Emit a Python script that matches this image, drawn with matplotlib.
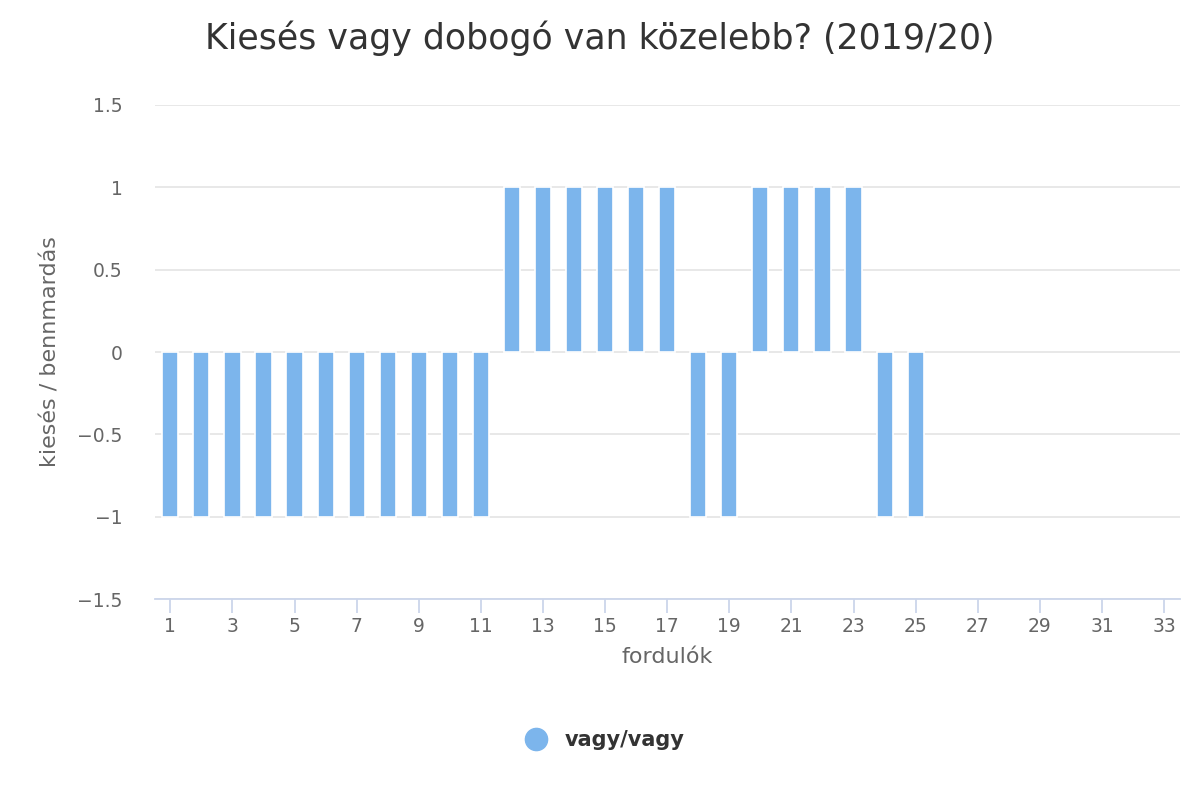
import matplotlib.pyplot as plt
import numpy as np
from matplotlib.lines import Line2D

plt.rcParams['font.family'] = ['DejaVu Sans']

# adatok
rounds = list(range(1, 34))
values = [-1] * 11 + [1] * 6 + [-1] * 2 + [1] * 4 + [-1] * 2 + [np.nan] * 8
y_ticks = [-1.5, -1, -0.5, 0, 0.5, 1, 1.5]
y_labels = ['−1.5', '−1', '−0.5', '0', '0.5', '1', '1.5']
x_ticks = list(range(1, 34, 2))

fig = plt.figure(figsize=(12, 8), dpi=100)
ax = fig.add_axes([0.129, 0.251, 0.854, 0.618])

ax.bar(rounds, values, width=0.52, color='#7cb5ec', edgecolor='white',
       linewidth=1.2, zorder=3)

ax.set_xlim(0.5, 33.5)
ax.set_ylim(-1.5, 1.5)
ax.set_yticks(y_ticks)
ax.set_yticklabels(y_labels)
ax.set_xticks(x_ticks)

ax.grid(axis='y', color='#e6e6e6', linewidth=1.3, zorder=0)
for s in ['top', 'right', 'left']:
    ax.spines[s].set_visible(False)
ax.spines['bottom'].set_color('#ccd6eb')
ax.spines['bottom'].set_linewidth(1.3)
ax.spines['bottom'].set_zorder(4)

ax.tick_params(axis='y', length=0, pad=23, labelsize=13.5, labelcolor='#666666')
ax.tick_params(axis='x', length=10, width=1.3, color='#ccd6eb', pad=3,
               labelsize=13.5, labelcolor='#666666')

ax.set_xlabel('fordulók', fontsize=16, color='#666666', labelpad=8)
ax.set_ylabel('kiesés / bennmardás', fontsize=16, color='#666666', labelpad=12)

fig.text(0.5, 0.952, 'Kiesés vagy dobogó van közelebb? (2019/20)',
         ha='center', va='center', fontsize=25, color='#333333')

handle = Line2D([], [], marker='o', linestyle='none', markersize=16,
                markerfacecolor='#7cb5ec', markeredgecolor='#7cb5ec')
leg = fig.legend([handle], ['vagy/vagy'], loc='center',
                 bbox_to_anchor=(0.5, 0.075), frameon=False,
                 prop={'size': 15, 'weight': 'bold'}, handletextpad=0.4)
for t in leg.get_texts():
    t.set_color('#333333')

fig.savefig('out.png', dpi=100)
